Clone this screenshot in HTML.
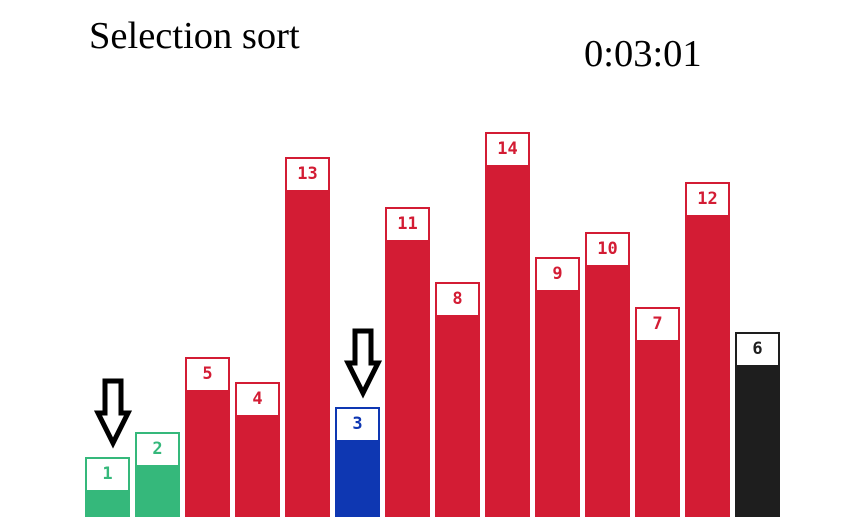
<!DOCTYPE html>
<html><head><meta charset="utf-8"><style>
body{margin:0;background:#fff;width:865px;height:529px;overflow:hidden;position:relative;font-family:"Liberation Serif",serif}
.t{position:absolute;color:#000}
.bar{position:absolute;box-sizing:border-box;border:2px solid}
.lab{position:absolute;left:0;top:0;right:0;height:31px;background:#fff;text-align:center;font:bold 17px "DejaVu Sans Mono","Liberation Mono",monospace;line-height:31px}
</style></head><body>
<div class="t" style="left:89px;top:14px;font-size:38.5px">Selection sort</div>
<div class="t" style="left:584px;top:32px;font-size:38.5px">0:03:01</div>
<svg id="arrows" width="865" height="529" style="position:absolute;left:0;top:0"></svg>
<div id="bars"></div>
<script>
const values=[1,2,5,4,13,3,11,8,14,9,10,7,12,6];
const states=['sorted','sorted','unsorted','unsorted','unsorted','current','unsorted','unsorted','unsorted','unsorted','unsorted','unsorted','unsorted','compare'];
const arrowIdx=[0,5];
const colors={sorted:'#35b87b',unsorted:'#d31c34',current:'#0e37b2',compare:'#1e1e1e'};
const barX=i=>85+i*50, barBottom=517, barTop=v=>482-25*v;
const cont=document.getElementById('bars');
values.forEach((v,i)=>{
 const d=document.createElement('div');
 
 
 d.className='bar';const c=colors[states[i]];
 d.style.cssText+=`left:${barX(i)}px;top:${barTop(v)}px;width:45px;height:${barBottom-barTop(v)}px;border-color:${c};background:${c}`;
 const l=document.createElement('div');
 
 
 l.className='lab';l.style.color=c;l.textContent=v;d.appendChild(l);cont.appendChild(d);
});
const svg=document.getElementById('arrows');
arrowIdx.forEach(i=>{
 const cx=barX(i)+28, ty=barTop(values[i])-76;
 const p=document.createElementNS('http://www.w3.org/2000/svg','polygon');
 
 
 p.setAttribute('points',`${cx-8},${ty} ${cx+8},${ty} ${cx+8},${ty+32} ${cx+15},${ty+32} ${cx},${ty+62} ${cx-15},${ty+32} ${cx-8},${ty+32}`);
 p.setAttribute('fill','#fff');p.setAttribute('stroke','#000');p.setAttribute('stroke-width','5');
 svg.appendChild(p);
});
</script>
</body></html>
